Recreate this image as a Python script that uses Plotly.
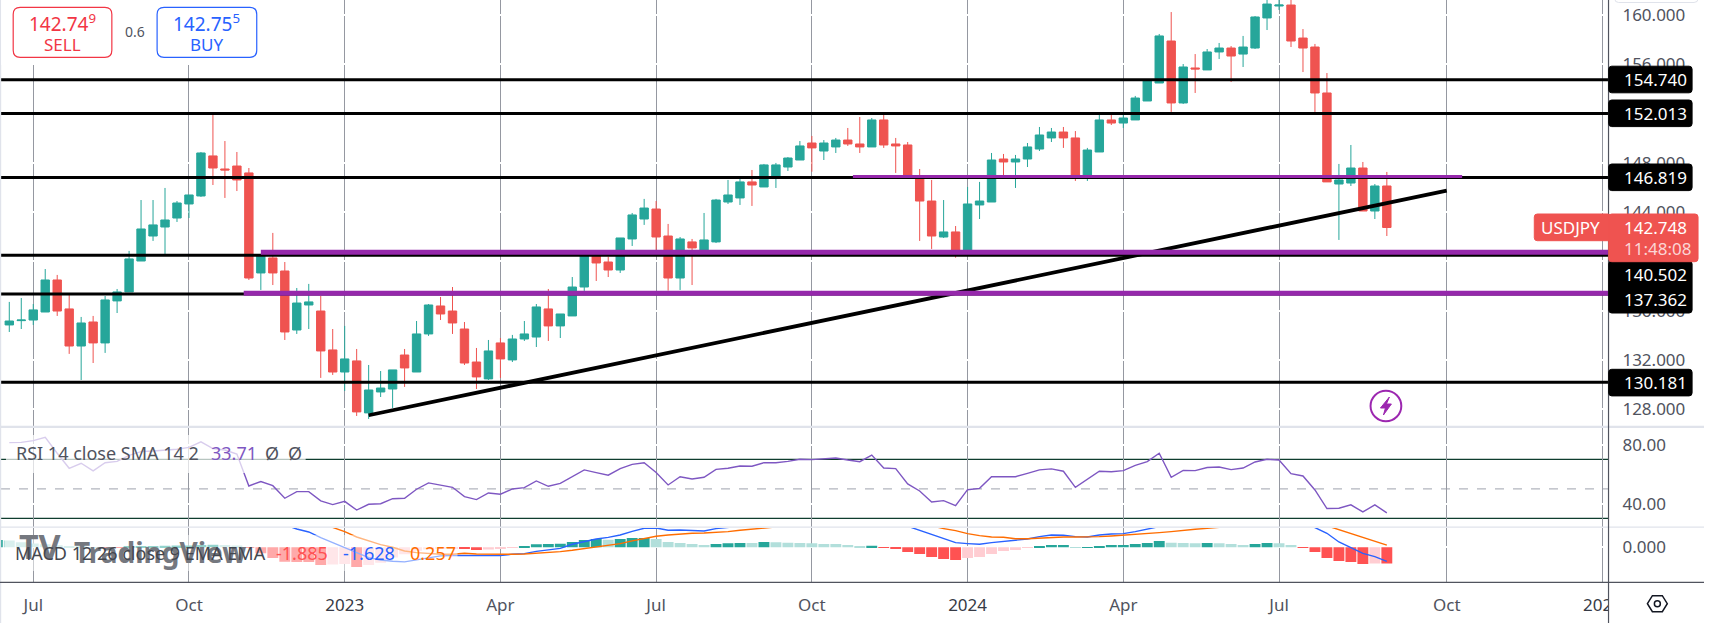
import pandas as pd
import plotly.graph_objects as go
from plotly.subplots import make_subplots

####### DATA #######
first_week = "2022-06-20"
opens = [134.84,135.19,135.24,135.89,138.49,136.14,133.13,135.08,133.38,136.79,
         137.52,140.03,142.06,142.79,143.52,144.66,145.31,148.56,147.50,147.74,
         147.18,139.06,140.28,139.22,134.43,136.46,135.97,132.81,131.02,131.92,
         127.70,129.40,129.64,132.40,131.02,134.11,136.38,135.97,134.51,131.83,
         130.46,133.38,132.00,133.70,133.86,136.14,134.76,135.57,137.92,140.65,
         139.95,139.30,141.82,143.44,144.25,142.06,138.65,141.58,140.87,141.58,
         144.82,145.15,146.45,146.04,146.93,147.66,148.23,149.61,148.96,149.29,
         149.85,149.53,149.29,151.48,149.53,149.45,146.82,144.90,141.98,142.39,
         140.87,144.58,144.82,148.31,148.07,148.31,149.12,150.02,150.50,150.02,
         146.93,148.88,151.48,151.23,151.48,153.02,154.48,157.89,152.86,155.70,
         155.54,157.00,157.32,156.83,157.32,159.76,160.73,160.81,158.13,157.40,
         153.67,146.28,146.36,147.58,144.09,146.12]
highs = [136.71,137.03,136.54,139.38,138.90,137.27,135.49,135.57,137.19,137.76,
         140.85,144.98,144.98,145.96,144.90,145.39,148.88,151.88,149.77,148.88,
         147.58,140.52,142.31,139.95,137.84,138.17,137.19,134.51,134.76,132.89,
         131.59,131.10,131.19,132.89,135.16,136.54,137.11,137.92,135.08,132.97,
         133.62,133.78,134.03,135.16,136.54,137.76,135.73,138.73,140.85,140.85,
         140.38,141.90,143.93,145.07,144.90,143.04,141.98,141.82,143.93,145.07,
         146.61,146.69,147.42,147.91,147.99,148.47,149.77,150.18,149.85,150.02,
         150.83,151.72,151.64,151.88,150.02,149.69,147.50,146.61,144.98,142.87,
         146.04,146.45,148.80,148.72,148.64,149.61,150.91,150.83,150.91,150.58,
         149.21,151.88,151.88,151.88,153.43,154.64,158.46,160.24,156.02,156.83,
         157.24,157.73,157.48,158.30,159.92,161.5,161.9,161.8,158.86,157.65,
         155.29,147.91,149.45,148.07,146.28,147.26]
lows = [134.27,134.51,134.84,135.89,135.57,132.49,130.37,131.75,132.57,135.81,
        137.52,140.03,141.66,140.60,143.20,143.52,145.23,146.20,145.15,145.71,
        138.49,137.68,138.08,133.62,134.11,134.51,130.54,130.78,129.48,127.45,
        127.21,128.99,128.10,129.81,131.02,133.95,135.24,134.11,131.59,129.64,
        130.37,130.54,131.83,133.54,133.05,133.54,133.78,135.57,137.60,138.41,
        138.73,139.06,141.25,142.96,140.65,137.63,137.68,138.08,140.87,141.49,
        144.66,144.58,144.50,146.04,145.96,147.34,148.23,147.28,148.23,148.80,
        149.37,148.80,149.29,149.21,147.18,146.93,141.66,141.01,141.90,140.30,
        140.87,143.44,144.82,146.93,145.96,147.66,148.96,149.69,149.21,146.53,
        146.53,148.88,151.07,150.83,151.48,153.02,154.48,152.13,152.78,153.67,
        155.54,156.43,154.56,155.78,157.24,158.78,160.41,157.40,155.37,152.13,
        146.45,141.74,146.12,144.09,143.44,142.06]
closes = [135.16,135.24,136.06,138.49,135.97,133.13,135.00,133.38,136.87,137.52,
          140.20,142.63,142.96,143.36,144.74,145.39,148.80,147.58,147.42,146.61,
          138.65,140.44,139.06,134.27,136.62,136.71,132.73,131.02,132.08,127.78,
          129.56,129.72,131.19,131.35,134.11,136.46,135.73,135.00,131.75,130.62,
          132.73,132.08,133.70,134.11,136.30,134.76,135.73,137.92,140.85,139.87,
          139.30,141.90,143.77,144.33,141.98,138.65,141.82,141.09,141.74,144.98,
          145.39,146.45,146.20,147.83,147.83,148.39,149.37,149.21,149.61,149.85,
          149.53,149.29,151.48,149.45,149.37,146.93,144.90,142.06,142.39,140.87,
          144.66,144.90,148.23,148.07,148.31,149.29,150.26,150.50,150.02,146.93,
          149.04,151.48,151.23,151.64,153.26,154.64,158.30,152.86,155.78,155.62,
          157.00,157.32,156.67,157.40,159.84,160.89,160.81,157.89,157.32,153.67,
          146.45,146.61,147.58,144.09,146.12,142.75]

rsi = [81.3,81.5,82.7,84.9,74.1,63.9,67.3,62.1,67.7,68.6,
       72.7,75.2,75.6,76.3,76.8,78.1,81.8,77.2,76.3,73.6,
       51.9,54.9,52.1,43.6,48.1,48.1,41.8,39.3,41.5,35.6,
       39.5,39.9,43.3,43.6,49.7,54.0,52.6,51.0,44.7,42.7,
       47.2,46.3,49.9,50.8,55.3,51.7,53.7,58.2,62.8,61.0,
       59.2,63.7,66.6,67.7,61.0,52.6,58.2,56.7,57.8,63.2,
       63.9,65.5,65.3,67.7,67.7,68.6,70.0,69.8,70.5,70.9,
       69.5,68.4,72.9,64.1,63.7,53.3,48.5,41.1,42.0,38.6,
       49.4,50.3,58.2,58.2,58.2,60.5,62.8,63.5,61.9,51.0,
       56.4,61.9,61.6,62.3,65.9,68.4,74.1,57.8,62.5,62.3,
       64.4,64.8,63.0,64.1,68.2,70.0,69.5,60.3,58.7,49.2,
       36.6,36.8,39.1,34.3,39.1,33.71]

macd = [5.6,5.2,4.9,5.0,4.7,4.2,3.8,3.4,3.3,3.3,
        3.5,4.0,4.3,4.5,4.7,4.9,5.4,5.6,5.6,5.5,
        4.7,4.0,3.3,2.6,2.13,1.78,1.12,.54,-.04,-.7,
        -1.2,-1.47,-1.63,-1.7,-1.47,-1.2,-1.0,-.95,-.97,-1.0,
        -.97,-.97,-.8,-.74,-.47,-.31,-.12,.35,.66,.97,
        1.16,1.43,1.86,2.21,2.25,1.98,2.02,1.94,1.90,2.17,
        2.33,2.5,2.6,2.85,3.0,3.1,3.2,3.3,3.35,3.4,
        3.45,3.45,3.6,3.4,3.1,2.45,1.98,1.47,1.05,.54,
        .43,.35,.54,.66,.85,.97,1.24,1.43,1.40,1.24,
        1.2,1.43,1.55,1.59,1.82,2.09,2.48,2.7,2.8,2.9,
        3.0,3.1,3.15,3.2,3.3,3.45,3.5,3.3,2.9,2.29,
        1.63,.62,0.0,-.7,-1.09,-1.628]
signal = [5.0,5.0,5.0,5.0,5.0,4.9,4.7,4.5,4.3,4.2,
          4.1,4.1,4.1,4.2,4.3,4.4,4.5,4.7,4.8,4.9,
          4.9,4.7,4.5,4.2,3.9,3.3,2.8,2.33,1.82,1.2,
          .78,.31,0.0,-.43,-.62,-.74,-.81,-.81,-.7,-.78,
          -.81,-.85,-.81,-.78,-.7,-.62,-.5,-.35,-.16,.04,
          .23,.43,.74,1.01,1.28,1.43,1.55,1.63,1.67,1.71,
          1.82,1.98,2.13,2.25,2.4,2.55,2.65,2.75,2.85,2.95,
          3.05,3.1,3.15,3.15,3.15,3.0,2.8,2.5,2.17,1.94,
          1.59,1.36,1.2,1.16,1.0,1.0,1.08,1.16,1.2,1.2,
          1.2,1.24,1.32,1.4,1.47,1.59,1.71,1.82,1.98,2.09,
          2.21,2.29,2.4,2.55,2.7,2.85,2.95,3.05,3.0,2.85,
          2.5,2.05,1.63,1.16,.7,.257]
# histogram starts one week earlier than the candles
hist = [.85,
        .78,.6,.45,.35,.25,.15,.08,.02,-.02,-.05,
        .05,.12,.15,.17,.2,.22,.28,.3,.27,.2,
        -.05,-.7,-1.24,-1.68,-1.7,-1.72,-2.05,-2.0,-1.95,-2.3,
        -2.05,-1.8,-1.2,-.8,-.4,-.25,-.15,-.1,-.2,-.3,
        -.25,-.15,-.05,.15,.35,.39,.41,.62,.85,.97,
        .89,.97,1.08,1.09,.97,.62,.50,.39,.27,.39,
        .48,.50,.49,.62,.60,.52,.50,.48,.39,.37,
        .27,.15,.17,-.05,-.19,-.54,-.78,-1.12,-1.36,-1.47,
        -1.24,-1.12,-.78,-.43,-.31,-.04,.15,.27,.28,.01,
        .03,.15,.26,.27,.39,.5,.74,.52,.5,.48,
        .5,.48,.39,.27,.39,.5,.48,.27,-.04,-.54,
        -1.24,-1.59,-1.71,-1.93,-1.88,-1.885]

level_values = [154.740, 152.013, 146.819, 140.502, 137.362, 130.181]
level_labels = ["154.740", "152.013", "146.819", "140.502", "137.362", "130.181"]
level_label_px = [79.5, 113.3, 177.3, 274.6, 299.7, 382.6]
zone_values = [140.74, 137.41, 146.89]
zone_start = ["2022-11-14", "2022-11-04", "2023-10-26"]
zone_end = [None, None, "2024-10-16"]
trend_dates = ["2023-01-16", "2024-10-07"]
trend_prices = [127.51, 145.74]

price_ticks = [160, 156, 152, 148, 144, 140, 136, 132, 128]
rsi_ticks = [80, 40]
macd_ticks = [0]
month_ticks = ["2022-07-04","2022-10-03","2023-01-02","2023-04-03","2023-07-03","2023-10-02",
               "2024-01-01","2024-04-01","2024-07-01","2024-10-07","2025-01-06"]
year_style = '<span style="color:#363a45">%s</span>'
month_labels = ["Jul","Oct",year_style % "2023","Apr","Jul","Oct",year_style % "2024","Apr","Jul","Oct",year_style % "2025"]
####### DATA #######

W, H = 1717, 623
AXIS_X = 1620.7
FONT = "Noto Sans"
TXT = "#50535e"
UP, DOWN = "#26a69a", "#ef5350"

weeks = pd.date_range(first_week, periods=len(closes), freq="7D")
hist_weeks = pd.date_range("2022-06-13", periods=len(hist), freq="7D")

def px(x):
    return x / W

def py(y):
    return 1 - y / H

# histogram colours like TradingView: dark when moving away from zero
hist_colors = []
for i, v in enumerate(hist):
    prev = hist[i - 1] if i else 0
    if v >= 0:
        hist_colors.append("#26a69a" if v >= prev else "#b2dfdb")
    else:
        hist_colors.append("#ff5252" if v <= prev else "#ffcdd2")

fig = make_subplots(rows=3, cols=1, shared_xaxes=True)

fig.add_trace(go.Candlestick(x=weeks, open=opens, high=highs, low=lows, close=closes,
                             increasing=dict(line=dict(color=UP, width=1), fillcolor=UP),
                             decreasing=dict(line=dict(color=DOWN, width=1), fillcolor=DOWN),
                             whiskerwidth=0, showlegend=False), row=1, col=1)
fig.add_trace(go.Scatter(x=trend_dates, y=trend_prices, mode="lines",
                         line=dict(color="black", width=3.8), showlegend=False), row=1, col=1)

fig.add_trace(go.Scatter(x=weeks, y=rsi, mode="lines",
                         line=dict(color="#7e57c2", width=1.4), showlegend=False), row=2, col=1)

fig.add_trace(go.Bar(x=hist_weeks, y=hist, marker=dict(color=hist_colors, line=dict(width=0)),
                     width=5.5e8, showlegend=False), row=3, col=1)
fig.add_trace(go.Scatter(x=weeks, y=macd, mode="lines",
                         line=dict(color="#2962ff", width=1.4), showlegend=False), row=3, col=1)
fig.add_trace(go.Scatter(x=weeks, y=signal, mode="lines",
                         line=dict(color="#ff6d00", width=1.4), showlegend=False), row=3, col=1)

####### SHAPES #######
shapes = []

def rect_px(x0, y0, x1, y1, fill, line=None, r=0, lw=1):
    # rounded rectangle in pixels of the page
    if r:
        a, b, c, d = px(x0), py(y0), px(x1), py(y1)
        rx, ry = r / W, r / H
        path = (f"M {a+rx} {b} L {c-rx} {b} Q {c} {b} {c} {b-ry} L {c} {d+ry} Q {c} {d} {c-rx} {d} "
                f"L {a+rx} {d} Q {a} {d} {a} {d+ry} L {a} {b-ry} Q {a} {b} {a+rx} {b} Z")
        shapes.append(dict(type="path", xref="paper", yref="paper", path=path, fillcolor=fill,
                           line=dict(color=line or fill, width=lw)))
    else:
        shapes.append(dict(type="rect", xref="paper", yref="paper", x0=px(x0), x1=px(x1),
                           y0=py(y0), y1=py(y1), fillcolor=fill, line=dict(width=0)))

def poly_px(points, fill, line=None, lw=1):
    path = "M " + " L ".join(f"{px(x)} {py(y)}" for x, y in points) + " Z"
    shapes.append(dict(type="path", xref="paper", yref="paper", path=path, fillcolor=fill,
                       line=dict(color=line or fill, width=lw)))

# black levels
for v in level_values:
    shapes.append(dict(type="line", xref="paper", yref="y", x0=px(1), x1=px(AXIS_X), y0=v, y1=v,
                       line=dict(color="black", width=3)))
# purple zones
for v, a, b, w in zip(zone_values, zone_start, zone_end, [5, 5, 3]):
    shapes.append(dict(type="line", xref="x", yref="y", x0=a, x1=b or "2025-01-09 12:00", y0=v, y1=v,
                       line=dict(color="#9528ab", width=w)))
# rsi levels
for v, c, d in [(70, "#0f3d2e", "solid"), (30, "#0f3d2e", "solid"), (50, "#b2b5be", "dash")]:
    shapes.append(dict(type="line", xref="paper", yref="y2", x0=px(1), x1=px(AXIS_X), y0=v, y1=v,
                       layer="below", line=dict(color=c, width=1.2, dash=d)))
shapes.append(dict(type="line", xref="paper", yref="y3", x0=px(1), x1=px(AXIS_X), y0=0, y1=0,
                   layer="below", line=dict(color="#b2b5be", width=1.2, dash="dash")))

# legend backgrounds, they fade what is under them
rect_px(6, 435, 308, 473, "rgba(255,255,255,0.7)")
rect_px(5, 535, 461, 571, "rgba(255,255,255,0.5)")
# pane separators, borders
rect_px(0, 425.7, W, 428, "#e0e3eb")
rect_px(0, 526.5, W, 527.7, "#e0e3eb")
rect_px(0, 0, 1.2, H, "#e0e3eb")
# white block behind the sell/buy widgets
rect_px(1.2, 0, 268, 65, "white")
rect_px(13.3, 7.3, 112.7, 57.3, "white", "#f23645", 7, 1.2)
rect_px(158.3, 7.3, 258.7, 57.3, "white", "#2962ff", 7, 1.2)
# time axis corner
rect_px(AXIS_X, 583, W, H, "white")
rect_px(0, 581.7, W, 583, "#50535e")
rect_px(AXIS_X - 0.5, 0, AXIS_X + 0.7, H, "#50535e")
# top right pill
rect_px(1627, -6, 1711, 2.5, "white", "#e0e3eb", 4, 1)
# price tags
for y in [79.5, 113.3, 177.3, 382.6]:
    rect_px(1621, y - 13.3, 1705, y + 13.3, "black", None, 3)
rect_px(1621, 261, 1705, 313, "black", None, 3)
rect_px(1546, 214, 1623, 240.7, DOWN, None, 3)
rect_px(1621, 214, 1711, 261.7, DOWN, None, 3)
# lightning icon
shapes.append(dict(type="circle", xref="paper", yref="paper", x0=px(1381), x1=px(1412),
                   y0=py(421.3), y1=py(390.7), line=dict(color="#9c27b0", width=2)))
poly_px([(1400, 397), (1391, 408), (1396, 408), (1394, 415), (1402, 404), (1397, 404)], "#9c27b0")
# settings hexagon
poly_px([(1660, 603.7), (1665, 595.7), (1675, 595.7), (1680, 603.7), (1675, 611.7), (1665, 611.7)],
        "white", "#131722", 1.5)
shapes.append(dict(type="circle", xref="paper", yref="paper", x0=px(1667), x1=px(1673),
                   y0=py(606.7), y1=py(600.7), line=dict(color="#131722", width=1.5)))
####### SHAPES #######

####### TEXTS #######
annots = []

def text_px(x, y, s, color=TXT, size=17, anchor="center", family=FONT):
    annots.append(dict(x=px(x), y=py(y), xref="paper", yref="paper", text=s, showarrow=False,
                       xanchor=anchor, yanchor="middle", borderpad=0,
                       font=dict(family=family, size=size, color=color)))

text_px(63, 23, "142.74<sup>9</sup>", "#f23645", 19)
text_px(63, 44, "SELL", "#f23645", 17)
text_px(136, 32, "0.6", "#50535e", 14)
text_px(208.5, 23, "142.75<sup>5</sup>", "#2962ff", 19)
text_px(208.5, 44, "BUY", "#2962ff", 17)

for s, y in zip(level_labels, level_label_px):
    text_px(1635, y, s, "white", 17, "left")
text_px(1582.7, 228, "USDJPY", "white", 17)
text_px(1635, 228, "142.748", "white", 17, "left")
text_px(1635, 248.7, "11:48:08", "#fbd5d5", 17, "left")

# watermark under the legend text
text_px(18, 546, "<b>TV</b>", "#75787f", 34, "left")
text_px(74, 552, "<b>TradingView</b>", "#75787f", 28, "left")

text_px(15, 452.7, "RSI 14 close SMA 14 2", TXT, 18, "left")
text_px(212, 452.7, "33.71", "#7e57c2", 18, "left")
text_px(274, 452.7, "Ø", TXT, 18)
text_px(297, 452.7, "Ø", TXT, 18)

text_px(14, 552.7, "MACD 12 26 close 9 EMA EMA", "#44474f", 18, "left")
text_px(277, 552.7, "-1.885", "#ff5252", 18, "left")
text_px(345, 552.7, "-1.628", "#2962ff", 18, "left")
text_px(412, 552.7, "0.257", "#ff6d00", 18, "left")
####### TEXTS #######

x_common = dict(range=["2022-06-14 13:40", "2025-01-09 12:00"], domain=[0, AXIS_X / W], type="date",
                showgrid=True, gridcolor="#9598a1", gridwidth=1.3, tickvals=month_ticks,
                ticktext=month_labels, showline=False, zeroline=False, rangeslider=dict(visible=False))
y_common = dict(side="right", showgrid=True, gridcolor="white", gridwidth=1.5, zeroline=False,
                showline=False, ticks="", ticklabelstandoff=13, tickfont=dict(family=FONT, size=17, color=TXT))

fig.update_layout(
    width=W, height=H, margin=dict(l=0, r=0, t=0, b=0), paper_bgcolor="white", plot_bgcolor="white",
    showlegend=False, shapes=shapes, annotations=annots, barmode="overlay", boxgap=0.3, boxgroupgap=0,
    xaxis=dict(x_common, showticklabels=False),
    xaxis2=dict(x_common, showticklabels=False),
    xaxis3=dict(x_common, showticklabels=True, ticks="", ticklabelstandoff=11,
                tickfont=dict(family=FONT, size=17, color=TXT)),
    yaxis=dict(y_common, domain=[py(426.7), 1], range=[126.58, 161.218], tickvals=price_ticks, tickformat=".3f"),
    yaxis2=dict(y_common, domain=[py(527), py(428)], range=[24.1, 91.22], tickvals=rsi_ticks, tickformat=".2f"),
    yaxis3=dict(y_common, domain=[py(582.3), py(528)], range=[-4.07, 2.244], tickvals=macd_ticks, tickformat=".3f"),
)

fig.write_html("out.html", config=dict(displayModeBar=False),
               post_script="document.body.style.margin='0';document.body.style.overflow='hidden';")
